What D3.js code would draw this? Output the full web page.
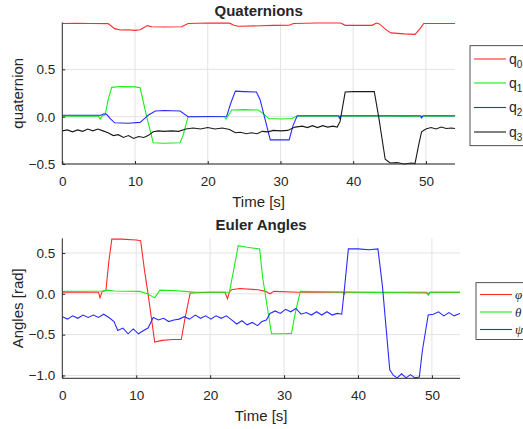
<!DOCTYPE html>
<html>
<head>
<meta charset="utf-8">
<script src="https://cdn.jsdelivr.net/npm/d3@7"></script>
<style>
	body { margin: 0; background: #fff; }
	svg text { font-family: "Liberation Sans", Arial, Helvetica, sans-serif; fill: #262626; }
</style>
</head>
<body>
<div id="chart-area"></div>
<script>
// ---------- data: [time (s), value] ----------
const q0 = [[0,0.985],[2,0.986],[4,0.984],[6.3,0.983],[7.2,0.93],[8,0.915],[9,0.918],[10,0.912],[10.7,0.918],[11.3,0.945],[11.7,0.962],[12.3,0.95],[14,0.948],[16.4,0.95],[17.3,0.985],[20,0.99],[23,0.988],[23.6,0.965],[24.2,0.955],[27.2,0.96],[29,0.965],[31.2,0.966],[31.8,0.985],[35,0.99],[38.3,0.99],[38.9,0.965],[42.6,0.965],[43.2,0.99],[43.6,0.98],[44.5,0.92],[45.2,0.885],[47,0.875],[48.5,0.87],[49.2,0.93],[49.7,0.985],[54,0.985]]
const q1 = [[0,0.005],[5,0.005],[5.2,-0.025],[5.5,0.01],[5.9,0.02],[6.3,0.18],[6.8,0.31],[8,0.318],[10,0.315],[10.7,0.305],[11.6,0.0],[12.5,-0.275],[14,-0.28],[16.2,-0.275],[16.6,-0.2],[17.3,0.0],[20,0.0],[22.3,0.0],[22.5,-0.025],[22.8,0.01],[23.3,0.07],[25,0.075],[26.9,0.07],[27.5,0.04],[28.4,-0.02],[30,-0.025],[31.6,-0.02],[32.2,0.005],[38,0.005],[45,0.005],[49.2,0.0],[49.4,-0.015],[49.6,0.005],[54,0.005]]
const q2 = [[0,0.015],[5.3,0.015],[5.7,0.03],[6.1,0.025],[6.6,-0.02],[7.2,-0.065],[9,-0.07],[10.7,-0.06],[11.3,-0.02],[11.8,0.015],[12.8,0.06],[14,0.065],[16.2,0.06],[17.3,0.0],[22.6,0.005],[23.2,0.15],[23.8,0.27],[25,0.265],[26.7,0.26],[27.2,0.18],[28.6,-0.245],[31.2,-0.245],[31.7,-0.1],[32.3,0.01],[38,0.01],[38.1,-0.015],[38.3,0.01],[49.3,0.01],[49.4,-0.01],[49.6,0.01],[54,0.01]]
const q3 = [[0,-0.15],[0.7,-0.14],[1.4,-0.16],[2.1,-0.14],[2.8,-0.155],[3.5,-0.13],[4.2,-0.15],[4.9,-0.13],[5.6,-0.15],[6.3,-0.17],[7,-0.2],[7.7,-0.19],[8.4,-0.22],[9.1,-0.2],[9.8,-0.23],[10.5,-0.21],[11.2,-0.22],[11.8,-0.2],[12.5,-0.16],[13.2,-0.15],[14,-0.155],[15,-0.15],[16,-0.155],[17,-0.13],[18,-0.12],[19,-0.13],[20,-0.115],[21,-0.13],[22,-0.12],[23,-0.135],[23.8,-0.17],[24.5,-0.165],[25.3,-0.18],[26,-0.17],[26.8,-0.18],[27.5,-0.155],[28.3,-0.16],[29,-0.145],[30,-0.15],[31,-0.145],[32,-0.11],[33,-0.1],[33.7,-0.115],[34.4,-0.095],[35.1,-0.115],[35.8,-0.095],[36.5,-0.11],[37.2,-0.1],[37.8,-0.11],[38.2,-0.05],[38.9,0.26],[40,0.265],[42.9,0.265],[43.5,0.0],[44.4,-0.45],[45.1,-0.49],[46,-0.485],[47,-0.5],[48,-0.49],[48.5,-0.495],[49.0,-0.3],[49.4,-0.16],[50,-0.13],[50.7,-0.115],[51.4,-0.13],[52.1,-0.11],[52.8,-0.125],[53.5,-0.12],[54,-0.125]]

const phi = [[0,0.02],[4.9,0.02],[5.1,-0.05],[5.4,0.03],[5.9,0.04],[6.3,0.4],[6.7,0.67],[8,0.67],[10,0.66],[10.6,0.65],[11.1,0.3],[11.6,0.0],[12.5,-0.59],[13.5,-0.57],[15,-0.56],[16.1,-0.56],[16.6,-0.3],[17.3,0.01],[20,0.02],[22,0.02],[22.35,-0.06],[22.6,0.02],[22.9,0.05],[24,0.065],[26.5,0.05],[27.5,0.03],[28.1,0.0],[28.6,0.03],[32,0.02],[38,0.02],[38.1,-0.005],[38.3,0.02],[45,0.02],[49.3,0.02],[49.5,-0.01],[49.7,0.02],[53.8,0.02]]
const theta = [[0,0.03],[5.5,0.035],[6,0.045],[7,0.035],[10.5,0.03],[11.5,0.0],[12.5,-0.05],[13.2,0.045],[15,0.04],[16.5,0.03],[18,0.02],[22.6,0.02],[23.2,0.3],[23.8,0.59],[25,0.57],[26.7,0.55],[27.1,0.2],[28.3,-0.49],[30,-0.49],[31.0,-0.485],[31.6,-0.2],[32.2,0.03],[40,0.02],[49.3,0.01],[49.5,-0.015],[49.8,0.02],[53.8,0.02]]
const psi = [[0,-0.28],[0.7,-0.31],[1.4,-0.27],[2.1,-0.3],[2.8,-0.26],[3.5,-0.29],[4.2,-0.26],[4.9,-0.29],[5.6,-0.25],[6.3,-0.29],[7,-0.34],[7.5,-0.45],[8.2,-0.42],[8.9,-0.49],[9.6,-0.43],[10.3,-0.49],[11,-0.45],[11.6,-0.42],[12.3,-0.29],[13,-0.32],[13.7,-0.3],[14.4,-0.34],[15.1,-0.32],[15.8,-0.31],[16.5,-0.28],[17.2,-0.31],[18,-0.26],[18.7,-0.3],[19.4,-0.27],[20.1,-0.31],[20.8,-0.27],[21.5,-0.3],[22.2,-0.27],[22.9,-0.32],[23.6,-0.37],[24.3,-0.33],[25,-0.38],[25.7,-0.35],[26.4,-0.39],[27,-0.34],[27.6,-0.32],[28.1,-0.24],[28.8,-0.21],[29.5,-0.24],[30.2,-0.19],[30.9,-0.22],[31.6,-0.18],[32.3,-0.25],[33,-0.23],[33.7,-0.26],[34.4,-0.22],[35.1,-0.26],[35.8,-0.22],[36.5,-0.26],[37.2,-0.24],[37.8,-0.25],[38.1,0.0],[38.7,0.55],[40,0.55],[41.5,0.54],[42.7,0.55],[43.3,0.1],[44.3,-0.93],[44.8,-1.0],[45.3,-1.03],[45.9,-0.98],[46.5,-1.03],[47.1,-0.99],[47.7,-1.03],[48.3,-1.02],[48.7,-0.7],[49.5,-0.26],[50.2,-0.25],[50.9,-0.22],[51.6,-0.27],[52.3,-0.23],[53,-0.27],[53.8,-0.24]]

const xTicks = [0, 10, 20, 30, 40, 50]
const quatTicks = [-0.5, 0, 0.5]
const eulerTicks = [-1, -0.5, 0, 0.5]
const quatNames = ["0", "1", "2", "3"]
const eulerNames = ["φ", "θ", "ψ"]
const colors = ["#ff2a2a", "#19ec19", "#2a2aff", "#1a1a1a"]

const svg = d3.select("#chart-area").append("svg")
	.attr("width", 523)
	.attr("height", 429)

let clipId = 0

function drawPanel(p) {
	const x = d3.scaleLinear().domain(p.xDomain).range([p.left, p.right])
	const y = d3.scaleLinear().domain(p.yDomain).range([p.bottom, p.top])
	const g = svg.append("g")

	// grid
	g.append("g").selectAll("line").data(xTicks.filter(t => t > 0))
		.join("line")
		.attr("x1", d => x(d)).attr("x2", d => x(d))
		.attr("y1", p.top).attr("y2", p.bottom)
		.attr("stroke", "#e3e3e3").attr("stroke-width", 1)
	g.append("g").selectAll("line").data(p.yTicks)
		.join("line")
		.attr("x1", p.left).attr("x2", p.right)
		.attr("y1", d => y(d)).attr("y2", d => y(d))
		.attr("stroke", "#e3e3e3").attr("stroke-width", 1)

	// lines
	const id = "clip" + (clipId++)
	svg.append("clipPath").attr("id", id)
		.append("rect")
		.attr("x", p.left).attr("y", p.top - 1)
		.attr("width", p.right - p.left).attr("height", p.bottom - p.top + 2)

	const line = d3.line()
		.x(d => x(d[0]))
		.y(d => y(d[1]))

	g.append("g").attr("clip-path", `url(#${id})`)
		.selectAll("path").data(p.series)
		.join("path")
		.attr("fill", "none")
		.attr("stroke", (d, i) => colors[i])
		.attr("stroke-width", 1.1)
		.attr("d", d => line(d))

	// axes
	const xAxis = g.append("g")
		.attr("transform", `translate(0, ${p.bottom})`)
		.call(d3.axisBottom(x).tickValues(xTicks).tickSizeInner(-3).tickSizeOuter(0).tickPadding(12))
	const yAxis = g.append("g")
		.attr("transform", `translate(${p.left}, 0)`)
		.call(d3.axisLeft(y).tickValues(p.yTicks).tickSizeInner(-3).tickSizeOuter(0).tickPadding(7))
	for (const ax of [xAxis, yAxis]) {
		ax.select(".domain").attr("stroke", "#262626")
		ax.selectAll(".tick line").attr("stroke", "#262626")
		ax.selectAll(".tick text").attr("fill", "#262626").attr("font-size", "13.5px")
	}
	yAxis.select(".domain").attr("d", `M0,${p.bottom}V${p.top}`)
	xAxis.select(".domain").attr("d", `M${p.left},0H${p.right}`)

	// title and labels
	g.append("text")
		.attr("x", (p.left + p.right) / 2)
		.attr("y", p.titleY)
		.attr("text-anchor", "middle")
		.attr("font-weight", "bold")
		.attr("font-size", "15px")
		.text(p.title)
	g.append("text")
		.attr("x", (p.left + p.right) / 2)
		.attr("y", p.bottom + 43)
		.attr("text-anchor", "middle")
		.attr("font-size", "15px")
		.text("Time [s]")
	g.append("text")
		.attr("transform", `translate(22.5, ${(p.top + p.bottom) / 2}) rotate(-90)`)
		.attr("text-anchor", "middle")
		.attr("font-size", "15px")
		.text(p.yLabel)

	// legend
	const lg = g.append("g")
	lg.append("rect")
		.attr("x", p.legend.x).attr("y", p.legend.y)
		.attr("width", 80).attr("height", p.legend.h)
		.attr("fill", "#fff").attr("stroke", "#262626").attr("stroke-width", 0.8)
	p.legend.rows.forEach((ry, i) => {
		lg.append("line")
			.attr("x1", p.legend.x + 4).attr("x2", p.legend.x + 36)
			.attr("y1", ry).attr("y2", ry)
			.attr("stroke", colors[i]).attr("stroke-width", 1.1)
		p.legend.label(lg.append("text")
			.attr("x", p.legend.x + 39)
			.attr("y", ry + 4.5), i)
	})
}

drawPanel({
	left: 62.3, right: 455, top: 22.5, bottom: 164,
	xDomain: [0, 54], yDomain: [-0.5, 0.995],
	yTicks: quatTicks,
	series: [q0, q1, q2, q3],
	title: "Quaternions", titleY: 16, yLabel: "quaternion",
	legend: {
		x: 470, y: 45.7, h: 100, rows: [59, 83, 107.5, 132],
		label: (t, i) => {
			t.attr("font-size", "14px")
			t.append("tspan").text("q")
			t.append("tspan").attr("dy", 4).attr("font-size", "10px").text(quatNames[i])
		}
	}
})

drawPanel({
	left: 62.3, right: 460, top: 238.3, bottom: 378.3,
	xDomain: [0, 53.8], yDomain: [-1.035, 0.68],
	yTicks: eulerTicks,
	series: [phi, theta, psi],
	title: "Euler Angles", titleY: 229.5, yLabel: "Angles [rad]",
	legend: {
		x: 476, y: 282.7, h: 56.7, rows: [294.5, 312, 329.5],
		label: (t, i) => {
			t.attr("font-size", "13px")
				.attr("font-style", "italic")
				.style("font-family", "'Liberation Serif', 'DejaVu Serif', serif")
				.text(eulerNames[i])
		}
	}
})
</script>
</body>
</html>
